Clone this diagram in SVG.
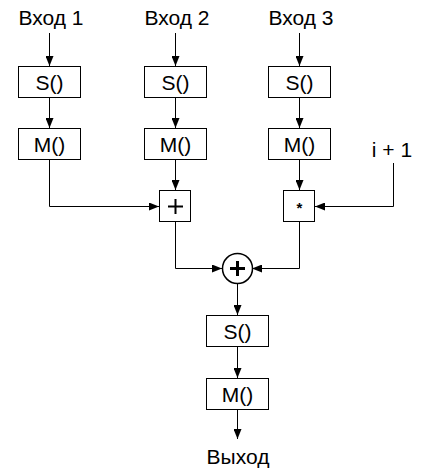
<svg xmlns="http://www.w3.org/2000/svg" width="427" height="474" viewBox="0 0 427 474">
<style>
.box{fill:#fff;stroke:#000;stroke-width:1}
.t{font-family:"Liberation Sans",Arial,sans-serif;font-size:21px;fill:#000;text-anchor:middle}
.ln{fill:none;stroke:#000;stroke-width:1}
</style>
<defs>
<marker id="ah" viewBox="0 0 10 8" refX="10" refY="4" markerWidth="10" markerHeight="8" markerUnits="userSpaceOnUse" orient="auto">
<path d="M0,0 L10,4 L0,8 z" fill="#000"/>
</marker>
</defs>
<rect width="427" height="474" fill="#fff"/>
<g id="connectors">
<path class="ln" d="M49.5,33 V66" marker-end="url(#ah)"/>
<path class="ln" d="M175.5,33 V66" marker-end="url(#ah)"/>
<path class="ln" d="M299.5,33 V66" marker-end="url(#ah)"/>
<path class="ln" d="M49.5,97 V128" marker-end="url(#ah)"/>
<path class="ln" d="M175.5,97 V128" marker-end="url(#ah)"/>
<path class="ln" d="M299.5,97 V128" marker-end="url(#ah)"/>
<path class="ln" d="M49.5,159 V206.5 H159" marker-end="url(#ah)"/>
<path class="ln" d="M175.5,159 V190" marker-end="url(#ah)"/>
<path class="ln" d="M299.5,159 V190" marker-end="url(#ah)"/>
<path class="ln" d="M393.5,163 V206.5 H315" marker-end="url(#ah)"/>
<path class="ln" d="M175.5,222 V268.5 H222" marker-end="url(#ah)"/>
<path class="ln" d="M299.5,222 V268.5 H252" marker-end="url(#ah)"/>
<path class="ln" d="M237.5,284 V315" marker-end="url(#ah)"/>
<path class="ln" d="M237.5,346 V378" marker-end="url(#ah)"/>
<path class="ln" d="M237.5,409 V439" marker-end="url(#ah)"/>
</g>
<g id="in1"><text class="t" x="51" y="25">Вход 1</text></g>
<g id="in2"><text class="t" x="177" y="25">Вход 2</text></g>
<g id="in3"><text class="t" x="301" y="25">Вход 3</text></g>
<g id="inc"><text class="t" x="392" y="157">i + 1</text></g>
<g id="s1"><rect class="box" x="18.5" y="66.5" width="62" height="31"/><text class="t" x="49.5" y="89.5">S()</text></g>
<g id="s2"><rect class="box" x="144.5" y="66.5" width="62" height="31"/><text class="t" x="175.5" y="89.5">S()</text></g>
<g id="s3"><rect class="box" x="268.5" y="66.5" width="62" height="31"/><text class="t" x="299.5" y="89.5">S()</text></g>
<g id="m1"><rect class="box" x="18.5" y="128.5" width="62" height="31"/><text class="t" x="49.5" y="151.5">M()</text></g>
<g id="m2"><rect class="box" x="144.5" y="128.5" width="62" height="31"/><text class="t" x="175.5" y="151.5">M()</text></g>
<g id="m3"><rect class="box" x="268.5" y="128.5" width="62" height="31"/><text class="t" x="299.5" y="151.5">M()</text></g>
<g id="add"><rect class="box" x="159.5" y="190.5" width="31" height="31"/><path d="M175.5,199 V214 M168,206.5 H183" stroke="#000" stroke-width="2" fill="none"/></g>
<g id="mul"><rect class="box" x="283.5" y="190.5" width="31" height="31"/><text class="t" x="299.5" y="213" style="font-size:15px;font-weight:bold">*</text></g>
<g id="sum"><circle cx="237.5" cy="268.5" r="15" fill="#fff" stroke="#000" stroke-width="1.5"/><path d="M237.5,261 V276 M230,268.5 H245" stroke="#000" stroke-width="3" fill="none"/></g>
<g id="s4"><rect class="box" x="206.5" y="315.5" width="62" height="31"/><text class="t" x="237.5" y="338.5">S()</text></g>
<g id="m4"><rect class="box" x="206.5" y="378.5" width="62" height="31"/><text class="t" x="237.5" y="401.5">M()</text></g>
<g id="out"><text class="t" x="238" y="464">Выход</text></g>
</svg>
